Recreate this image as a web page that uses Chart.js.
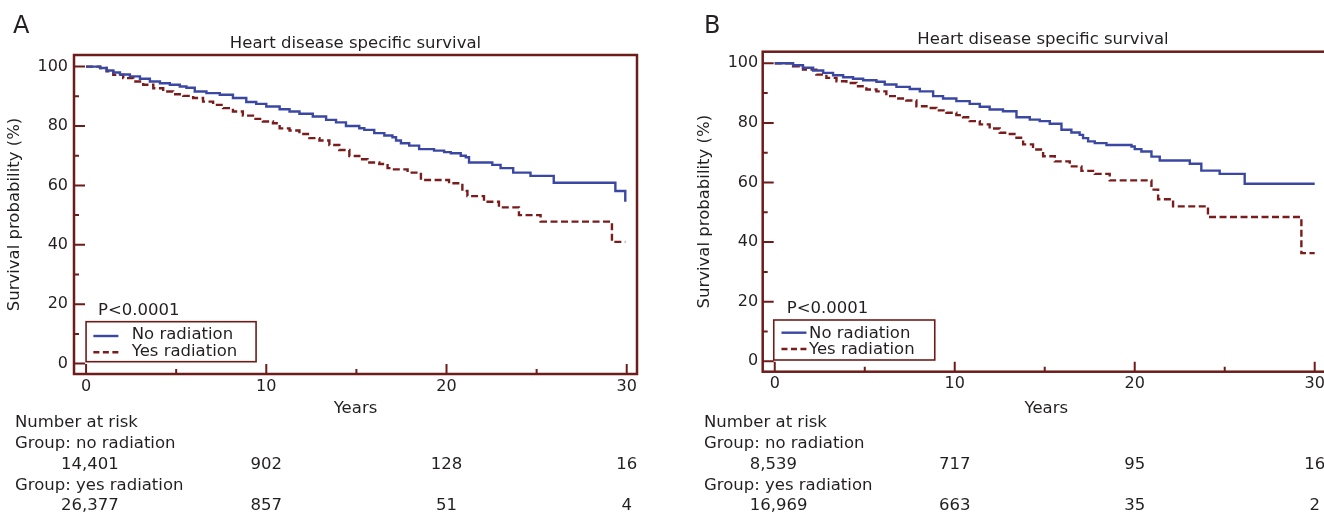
<!DOCTYPE html>
<html>
<head>
<meta charset="utf-8">
<script src="https://cdn.jsdelivr.net/npm/chart.js@4.4.1/dist/chart.umd.min.js"></script>
<style>
  html, body { margin: 0; padding: 0; background: #ffffff; }
  body { width: 1324px; height: 513px; overflow: hidden; position: relative; }
  canvas { position: absolute; top: 0; }
  #cA { left: 0; }
  #cB { left: 690px; }
</style>
</head>
<body>
<canvas id="cA" width="690" height="513"></canvas>
<canvas id="cB" width="690" height="513"></canvas>
<script>
// ---------------- DATA ----------------
const panelLetters = ['A', 'B'];
const chartTitle = 'Heart disease specific survival';
const seriesNames = ['No radiation', 'Yes radiation'];
const pValueText = 'P<0.0001';
const xTitle = 'Years';
const yTitle = 'Survival probability (%)';

const yMajorTicks = [0, 20, 40, 60, 80, 100];
const yMinorTicks = [10, 30, 50, 70, 90];
const xMajorTicks = [0, 10, 20, 30];
const xMinorTicks = [5, 15, 25];

// Panel A - no radiation
const yearsA_no = [0, 0.5, 0.78, 1.14, 1.51, 1.88, 2.43, 2.99, 3.54, 4.10, 4.65, 5.2, 5.57, 6.03, 6.68, 7.42, 8.15, 8.89, 9.44, 10.0, 10.74, 11.29, 11.84, 12.58, 13.32, 13.87, 14.42, 15.16, 15.44, 15.99, 16.55, 17.0, 17.2, 17.47, 17.93, 18.48, 19.31, 19.87, 20.24, 20.79, 21.07, 21.25, 22.54, 23.0, 23.7, 24.66, 25.95, 29.37, 29.92];
const survA_no  = [100, 100, 99.5, 98.7, 98.0, 97.35, 96.7, 95.9, 95.0, 94.4, 93.9, 93.3, 92.85, 91.6, 91.05, 90.5, 89.4, 88.1, 87.45, 86.55, 85.65, 84.9, 84.1, 83.2, 82.05, 81.2, 80.0, 79.25, 78.7, 77.6, 76.8, 76.2, 75.1, 74.2, 73.4, 72.2, 71.7, 71.2, 70.8, 70.0, 69.5, 67.7, 66.9, 65.8, 64.3, 63.2, 60.9, 58.1, 54.5];
// Panel A - yes radiation
const yearsA_yes = [0, 0.5, 0.78, 1.14, 1.51, 2.06, 2.62, 3.17, 3.73, 4.28, 4.83, 5.39, 5.94, 6.49, 7.05, 7.6, 8.15, 8.7, 9.26, 9.81, 10.37, 10.74, 11.29, 11.84, 12.39, 12.95, 13.5, 14.05, 14.61, 15.16, 15.62, 16.27, 16.73, 17.0, 17.84, 18.58, 20.14, 20.88, 21.16, 22.08, 22.91, 24.02, 25.22, 29.18, 29.92];
const survA_yes  = [100, 100, 99.5, 98.4, 97.2, 96.1, 95.0, 93.9, 92.7, 91.6, 90.7, 90.15, 89.4, 88.2, 87.1, 86.0, 84.9, 83.5, 82.4, 81.5, 80.9, 79.2, 78.5, 77.3, 75.9, 75.1, 73.6, 71.9, 69.9, 68.8, 67.7, 67.2, 65.8, 65.4, 64.3, 61.8, 60.7, 58.1, 56.4, 54.5, 52.6, 50.0, 47.8, 41.0, 41.0];
// Panel B - no radiation
const yearsB_no = [0, 0.56, 1.02, 1.57, 2.13, 2.69, 3.24, 3.8, 4.35, 4.91, 5.65, 6.11, 6.76, 7.5, 8.06, 8.8, 9.35, 10.09, 10.83, 11.39, 11.94, 12.68, 13.43, 14.17, 14.72, 15.28, 15.93, 16.48, 16.94, 17.13, 17.41, 17.78, 18.43, 19.82, 20.0, 20.37, 20.93, 21.39, 23.06, 23.7, 24.72, 26.11, 30.0];
const survB_no  = [100, 100, 99.35, 98.5, 97.6, 96.8, 96.0, 95.3, 94.8, 94.3, 93.8, 92.9, 92.1, 91.4, 90.6, 89.0, 88.2, 87.3, 86.4, 85.4, 84.5, 83.9, 81.9, 81.1, 80.6, 79.7, 77.7, 76.8, 76.0, 74.9, 73.8, 73.2, 72.6, 72.1, 71.2, 70.4, 68.7, 67.4, 66.3, 64.0, 62.9, 59.6, 59.6];
// Panel B - yes radiation
const yearsB_yes = [0, 0.56, 1.02, 1.57, 2.31, 2.87, 3.43, 3.98, 4.54, 5.09, 5.65, 6.2, 6.76, 7.31, 7.87, 8.43, 8.98, 9.54, 10.09, 10.46, 10.83, 11.39, 11.94, 12.5, 13.06, 13.43, 13.8, 14.35, 14.91, 15.56, 16.39, 17.04, 17.78, 18.61, 20.93, 21.3, 22.13, 24.07, 29.26, 30.0];
const survB_yes  = [100, 100, 99.0, 97.9, 96.2, 95.1, 94.0, 93.4, 92.3, 91.2, 90.6, 89.0, 88.2, 87.5, 85.6, 85.0, 84.2, 83.4, 82.6, 81.9, 80.6, 79.5, 78.1, 76.7, 76.3, 75.0, 72.8, 71.1, 68.8, 67.1, 65.4, 63.9, 62.9, 60.7, 57.6, 54.4, 52.0, 48.4, 36.3, 36.3];

// Number at risk
const riskTimes = [0, 10, 20, 30];
const riskA_no  = ['14,401', '902', '128', '16'];
const riskA_yes = ['26,377', '857', '51', '4'];
const riskB_no  = ['8,539', '717', '95', '16'];
const riskB_yes = ['16,969', '663', '35', '2'];
const riskRowLabels = ['Number at risk', 'Group: no radiation', 'Group: yes radiation'];

// ---------------- STYLE ----------------
const BLUE = '#3a48a4';
const RED = '#7a1c1c';
const FRAME = '#6e1c1a';
const TEXT = '#231f20';
const FONT = '"DejaVu Sans", "Liberation Sans", sans-serif';

function toPts(xs, ys) { return xs.map((x, i) => ({ x: x, y: ys[i] })); }

const overlay = {
  id: 'overlay',
  afterDraw(chart, args, o) {
    const ctx = chart.ctx;
    const ca = chart.chartArea;
    const xs = chart.scales.x, ys = chart.scales.y;
    const x0 = xs.getPixelForValue(0);
    ctx.save();
    // frame
    ctx.strokeStyle = FRAME;
    ctx.lineWidth = 2.5;
    ctx.strokeRect(ca.left, ca.top, ca.right - ca.left, ca.bottom - ca.top);
    // inward ticks
    ctx.lineWidth = 2;
    ctx.beginPath();
    xMajorTicks.forEach(v => { const p = xs.getPixelForValue(v); ctx.moveTo(p, ca.bottom); ctx.lineTo(p, ca.bottom - 10); });
    xMinorTicks.forEach(v => { const p = xs.getPixelForValue(v); ctx.moveTo(p, ca.bottom); ctx.lineTo(p, ca.bottom - 5); });
    yMajorTicks.forEach(v => { const p = ys.getPixelForValue(v); ctx.moveTo(ca.left, p); ctx.lineTo(ca.left + 11, p); });
    yMinorTicks.forEach(v => { const p = ys.getPixelForValue(v); ctx.moveTo(ca.left, p); ctx.lineTo(ca.left + 5, p); });
    ctx.stroke();

    ctx.fillStyle = TEXT;
    ctx.textBaseline = 'alphabetic';
    // panel letter
    ctx.font = '24px ' + FONT;
    ctx.textAlign = 'left';
    ctx.fillText(o.letter, o.letterX, 33);
    // title
    ctx.font = '16.5px ' + FONT;
    ctx.textAlign = 'center';
    ctx.fillText(chartTitle, o.titleX !== undefined ? o.titleX : (ca.left + ca.right) / 2, ca.top - 7.5);
    // p value
    ctx.textAlign = 'left';
    ctx.fillText(pValueText, x0 + 12, ca.bottom - 59);
    // legend
    const L = o.legend;
    ctx.strokeStyle = FRAME;
    ctx.lineWidth = 1.6;
    ctx.strokeRect(x0 + L.boxL, ca.bottom + L.boxT, L.boxW, L.boxH);
    ctx.lineWidth = 2.4;
    ctx.strokeStyle = BLUE;
    ctx.setLineDash([]);
    ctx.beginPath(); ctx.moveTo(x0 + L.lineL, ca.bottom + L.line1); ctx.lineTo(x0 + L.lineR, ca.bottom + L.line1); ctx.stroke();
    ctx.strokeStyle = RED;
    ctx.setLineDash([6, 3.5]);
    ctx.beginPath(); ctx.moveTo(x0 + L.lineL, ca.bottom + L.line2); ctx.lineTo(x0 + L.lineR, ca.bottom + L.line2); ctx.stroke();
    ctx.setLineDash([]);
    ctx.fillText(seriesNames[0], x0 + L.textX, ca.bottom + L.text1);
    ctx.fillText(seriesNames[1], x0 + L.textX, ca.bottom + L.text2);
    // number at risk table
    const rowY = [426.5, 448, 468.5, 490, 510];
    ctx.textAlign = 'left';
    ctx.fillText(riskRowLabels[0], o.tableX, rowY[0]);
    ctx.fillText(riskRowLabels[1], o.tableX, rowY[1]);
    ctx.fillText(riskRowLabels[2], o.tableX, rowY[3]);
    [[o.riskNo, rowY[2]], [o.riskYes, rowY[4]]].forEach(([vals, yy]) => {
      vals.forEach((s, i) => {
        if (i === 0) { ctx.textAlign = 'left'; ctx.fillText(s, x0 - 25, yy); }
        else { ctx.textAlign = 'center'; ctx.fillText(s, xs.getPixelForValue(riskTimes[i]), yy); }
      });
    });
    ctx.restore();
  }
};

function makeChart(id, P) {
  return new Chart(document.getElementById(id), {
    type: 'line',
    data: {
      datasets: [
        { label: seriesNames[0], data: toPts(P.tNo, P.sNo), borderColor: BLUE, backgroundColor: BLUE,
          borderWidth: 2.4, stepped: 'before', pointRadius: 0, fill: false },
        { label: seriesNames[1], data: toPts(P.tYes, P.sYes), borderColor: RED, backgroundColor: RED,
          borderWidth: 2.4, borderDash: [7, 3.5], stepped: 'before', pointRadius: 0, fill: false }
      ]
    },
    options: {
      responsive: false,
      animation: false,
      devicePixelRatio: 1,
      events: [],
      layout: { padding: { left: 0, top: P.padTop, right: P.padRight, bottom: P.padBottom } },
      plugins: {
        legend: { display: false },
        tooltip: { enabled: false },
        title: { display: false },
        overlay: P.overlay
      },
      scales: {
        x: {
          type: 'linear', min: -0.67, max: P.xMax,
          grid: { display: false, drawTicks: false },
          border: { display: false },
          ticks: { color: TEXT, font: { family: FONT, size: 16 }, padding: 3, maxRotation: 0, autoSkip: false },
          afterBuildTicks: s => { s.ticks = xMajorTicks.map(v => ({ value: v })); },
          afterFit: s => { s.height = 60; },
          title: { display: true, text: xTitle, color: TEXT, font: { family: FONT, size: 16.5 }, padding: { top: 0, bottom: P.xTitlePad } }
        },
        y: {
          type: 'linear', min: -3.5, max: 103.9,
          grid: { display: false, drawTicks: false },
          border: { display: false },
          ticks: { color: TEXT, font: { family: FONT, size: 16 }, padding: P.yTickPad, autoSkip: false },
          afterBuildTicks: s => { s.ticks = yMajorTicks.map(v => ({ value: v })); },
          afterFit: s => { s.width = P.yWidth; },
          title: { display: true, text: yTitle, color: TEXT, font: { family: FONT, size: 16.5 }, padding: { top: 4.5, bottom: 0 } }
        }
      }
    },
    plugins: [overlay]
  });
}

makeChart('cA', {
  tNo: yearsA_no, sNo: survA_no, tYes: yearsA_yes, sYes: survA_yes,
  padTop: 55, padRight: 53, padBottom: 79, yWidth: 74, yTickPad: 6, xTitlePad: 15, xMax: 30.57,
  overlay: {
    letter: panelLetters[0], letterX: 13, tableX: 15,
    riskNo: riskA_no, riskYes: riskA_yes,
    legend: { boxL: 0, boxT: -52.3, boxW: 170, boxH: 40, lineL: 7.3, lineR: 32.3, line1: -38, line2: -21.7, textX: 45.7, text1: -34.7, text2: -17.6 }
  }
});

makeChart('cB', {
  tNo: yearsB_no, sNo: survB_no, tYes: yearsB_yes, sYes: survB_yes,
  padTop: 51.7, padRight: 50, padBottom: 81.3, yWidth: 72.7, yTickPad: 4.5, xTitlePad: 12.8, xMax: 30.85,
  overlay: {
    letter: panelLetters[1], letterX: 14, tableX: 14, titleX: 353,
    riskNo: riskB_no, riskYes: riskB_yes,
    legend: { boxL: -1, boxT: -51.7, boxW: 161, boxH: 40, lineL: 6.7, lineR: 31.7, line1: -39, line2: -22.7, textX: 34.3, text1: -34, text2: -17.4 }
  }
});
</script>
</body>
</html>
